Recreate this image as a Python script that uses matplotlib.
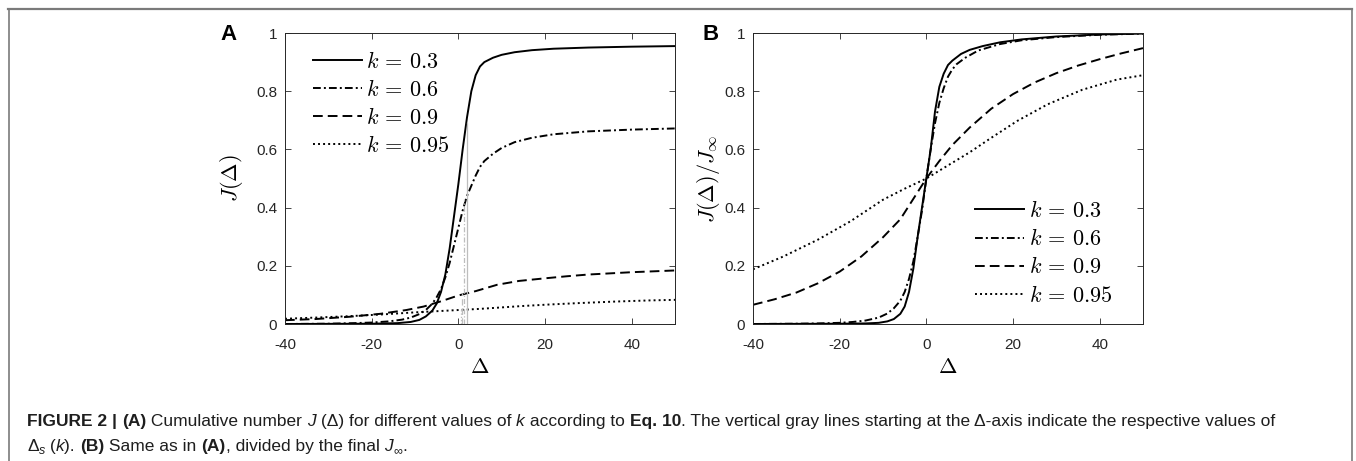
import numpy as np
import matplotlib
matplotlib.use("Agg")
from matplotlib import pyplot as plt
from matplotlib.lines import Line2D
from matplotlib.transforms import IdentityTransform

plt.rcParams['font.family'] = ['Liberation Sans', 'DejaVu Sans']
plt.rcParams['mathtext.fontset'] = 'cm'

# ---- data ----
ks = ["0.3", "0.6", "0.9", "0.95"]
styles = ['-', (0, (4.0, 1.6, 1.0, 1.6)), (0, (5.0, 2.6)), (0, (1.0, 1.6))]

# panel A: J(Delta)
dA_03 = [-40, -20, -14, -11, -9, -7.5, -6, -5, -4, -3, -2, -1, 0, 1, 2, 3, 4, 5, 6, 8, 10, 13, 17, 22, 30, 40, 50]
jA_03 = [0, 0.001, 0.003, 0.007, 0.014, 0.026, 0.046, 0.07, 0.11, 0.17, 0.26, 0.37, 0.48, 0.6, 0.71, 0.8, 0.855, 0.885, 0.9, 0.915, 0.925, 0.934, 0.941, 0.946, 0.95, 0.953, 0.955]
dA_06 = [-40, -30, -24, -20, -16, -13, -11, -9, -7.5, -6, -5, -4, -3, -2, -1, 0, 1, 2, 3, 4, 5, 6, 8, 10, 13, 17, 22, 30, 40, 50]
jA_06 = [0.0, 0.001, 0.003, 0.005, 0.009, 0.015, 0.022, 0.034, 0.048, 0.07, 0.092, 0.12, 0.16, 0.21, 0.27, 0.33, 0.39, 0.44, 0.475, 0.51, 0.54, 0.56, 0.585, 0.605, 0.625, 0.64, 0.652, 0.662, 0.668, 0.672]
dA_09 = [-40, -33, -25, -18, -12, -8, -4, 0, 4, 9, 14, 20, 25, 30, 40, 50]
jA_09 = [0.013, 0.017, 0.025, 0.035, 0.048, 0.06, 0.078, 0.098, 0.113, 0.135, 0.148, 0.157, 0.164, 0.17, 0.178, 0.184]
dA_095 = [-40, -33, -25, -17.5, -10, -5, 0, 5, 10, 15, 21, 28, 36, 44, 50]
jA_095 = [0.018, 0.022, 0.027, 0.033, 0.04, 0.044, 0.048, 0.052, 0.057, 0.062, 0.067, 0.072, 0.077, 0.081, 0.083]

# gray marker lines: Delta_s(k) and the height they reach
ds_k = [1.9, 1.4, 0.9, 0.7]
ds_top = [0.69, 0.43, 0.105, 0.05]

# panel B: J(Delta)/J_inf
dB_03 = [-40, -20, -14, -11, -9, -7.5, -6, -5, -4, -3, -2, -1, 0, 1, 2, 3, 4, 5, 6, 8, 10, 13, 17, 22, 30, 40, 50]
jB_03 = [0, 0.001, 0.002, 0.004, 0.009, 0.017, 0.035, 0.06, 0.11, 0.19, 0.3, 0.4, 0.5, 0.6, 0.73, 0.815, 0.86, 0.89, 0.905, 0.928, 0.942, 0.955, 0.968, 0.978, 0.988, 0.995, 0.998]
dB_06 = [-40, -30, -25, -20, -17, -14, -11, -9, -7.5, -6, -5, -4, -3, -2, -1, 0, 1, 2, 3, 4, 5, 6, 7, 9, 12, 17, 22, 30, 40, 50]
jB_06 = [0, 0.001, 0.002, 0.004, 0.007, 0.012, 0.022, 0.036, 0.054, 0.08, 0.11, 0.155, 0.215, 0.3, 0.39, 0.5, 0.6, 0.69, 0.76, 0.81, 0.85, 0.875, 0.893, 0.915, 0.94, 0.962, 0.975, 0.986, 0.994, 0.998]
dB_09 = [-40, -35, -30, -25, -20, -15, -10, -6, -3, 0, 3, 6, 10, 15, 20, 25, 30, 35, 40, 45, 50]
jB_09 = [0.066, 0.085, 0.108, 0.14, 0.18, 0.232, 0.298, 0.36, 0.43, 0.5, 0.56, 0.615, 0.675, 0.74, 0.79, 0.83, 0.862, 0.888, 0.91, 0.93, 0.948]
dB_095 = [-40, -33, -25, -17.5, -10, -5, 0, 5, 10, 15, 21, 28, 36, 44, 50]
jB_095 = [0.188, 0.232, 0.29, 0.353, 0.427, 0.465, 0.5, 0.545, 0.59, 0.64, 0.698, 0.755, 0.805, 0.84, 0.855]

xticks = [-40, -20, 0, 20, 40]
yticks = [0, 0.2, 0.4, 0.6, 0.8, 1]
xtick_labels = ["-40", "-20", "0", "20", "40"]
ytick_labels = ["0", "0.2", "0.4", "0.6", "0.8", "1"]

W, H = 1356, 461
fig = plt.figure(figsize=(W / 100, H / 100), dpi=100)


def px_axes(l, r, t, b):
    return fig.add_axes([l / W, (H - b) / H, (r - l) / W, (b - t) / H])


def style_axes(ax):
    ax.set_xlim(-40, 50)
    ax.set_ylim(0, 1)
    ax.set_xticks(xticks)
    ax.set_xticklabels(xtick_labels)
    ax.set_yticks(yticks)
    ax.set_yticklabels(ytick_labels)
    ax.tick_params(direction='in', top=True, right=True, length=4, width=0.6,
                   labelsize=11, colors='#262626')
    ax.tick_params(axis='x', pad=10)
    ax.tick_params(axis='y', pad=5.5)
    for sp in ax.spines.values():
        sp.set_linewidth(0.7)
        sp.set_color('#262626')
    ax.set_xlabel(r'$\Delta$', fontsize=16)
    ax.xaxis.set_label_coords(0.5, -0.115)


def leg_label(k):
    return r'$k \,=\, %s$' % k


lw = 1.4
axA = px_axes(285, 675, 33, 324)
seriesA = [(dA_03, jA_03), (dA_06, jA_06), (dA_09, jA_09), (dA_095, jA_095)]
for (d, j), ls, k in zip(seriesA, styles, ks):
    axA.plot(d, j, linestyle=ls, color='black', lw=lw, label=leg_label(k))
for xs, top, ls in zip(ds_k, ds_top, styles):
    axA.plot([xs, xs], [0, top], linestyle=ls, color='#bdbdbd', lw=0.9)
style_axes(axA)
axA.set_ylabel(r'$J(\Delta)$', fontsize=16)
axA.yaxis.set_label_coords(-0.103, 0.5)
axA.legend(loc='upper left', bbox_to_anchor=(0.072, 0.935), frameon=False,
           fontsize=16, handlelength=2.2, handletextpad=0.2, labelspacing=0.32,
           borderpad=0, borderaxespad=0)

axB = px_axes(753, 1143, 33, 324)
seriesB = [(dB_03, jB_03), (dB_06, jB_06), (dB_09, jB_09), (dB_095, jB_095)]
for (d, j), ls, k in zip(seriesB, styles, ks):
    axB.plot(d, j, linestyle=ls, color='black', lw=lw, label=leg_label(k))
style_axes(axB)
axB.set_ylabel(r'$J(\Delta)/J_\infty$', fontsize=16)
axB.yaxis.set_label_coords(-0.079, 0.5)
axB.legend(loc='lower left', bbox_to_anchor=(0.57, 0.06), frameon=False,
           fontsize=16, handlelength=2.2, handletextpad=0.2, labelspacing=0.32,
           borderpad=0, borderaxespad=0)

# panel letters
fig.text(228 / W, 1 - 35 / H, 'A', fontsize=16, fontweight='bold', ha='center', va='center')
fig.text(711 / W, 1 - 35 / H, 'B', fontsize=16, fontweight='bold', ha='center', va='center')

# frame
gray = '#7a7a7a'
fig.add_artist(Line2D([8, 1352], [H - 8.5, H - 8.5], transform=IdentityTransform(), color=gray, lw=1.6))
fig.add_artist(Line2D([8.5, 8.5], [0, H - 8.5], transform=IdentityTransform(), color=gray, lw=1.2))
fig.add_artist(Line2D([1351.5, 1351.5], [0, H - 8.5], transform=IdentityTransform(), color=gray, lw=1.2))

# caption, written piece by piece
renderer = fig.canvas.get_renderer()
cap_size = 12.55
sub_size = 9
cap_color = '#1e1e1e'


def seg_width(s, **kw):
    a = fig.text(0, 0, '|' + s + '|', fontsize=kw.get('size', cap_size),
                 fontweight=kw.get('weight', 'normal'), fontstyle=kw.get('style', 'normal'))
    b = fig.text(0, 0, '||', fontsize=kw.get('size', cap_size),
                 fontweight=kw.get('weight', 'normal'), fontstyle=kw.get('style', 'normal'))
    w = a.get_window_extent(renderer).width - b.get_window_extent(renderer).width
    a.remove()
    b.remove()
    return w


def put_line(x, y, segs):
    for s, kw in segs:
        fig.text(x, y - kw.get('dy', 0), s, transform=IdentityTransform(),
                 fontsize=kw.get('size', cap_size), fontweight=kw.get('weight', 'normal'),
                 fontstyle=kw.get('style', 'normal'), color=cap_color, va='baseline')
        x += seg_width(s, **kw)


B_ = {'weight': 'bold'}
I_ = {'style': 'italic'}
N_ = {}
line1 = [("FIGURE 2 | ", B_), ("(A)", B_), (" Cumulative number ", N_), ("J", I_),
         (" (\u0394) for different values of ", N_), ("k", I_), (" according to ", N_),
         ("Eq. 10", B_),
         (". The vertical gray lines starting at the \u0394-axis indicate the respective values of", N_)]
line2 = [("\u0394", N_), ("s", {'style': 'italic', 'size': sub_size, 'dy': 3}), (" (", N_), ("k", I_),
         ("). ", N_), ("(B)", B_), (" Same as in ", N_), ("(A)", B_),
         (", divided by the final ", N_), ("J", I_), ("\u221e", {'size': sub_size, 'dy': 3}), (".", N_)]
put_line(27, H - 426, line1)
put_line(27, H - 451, line2)

fig.savefig('out.png', dpi=100)
